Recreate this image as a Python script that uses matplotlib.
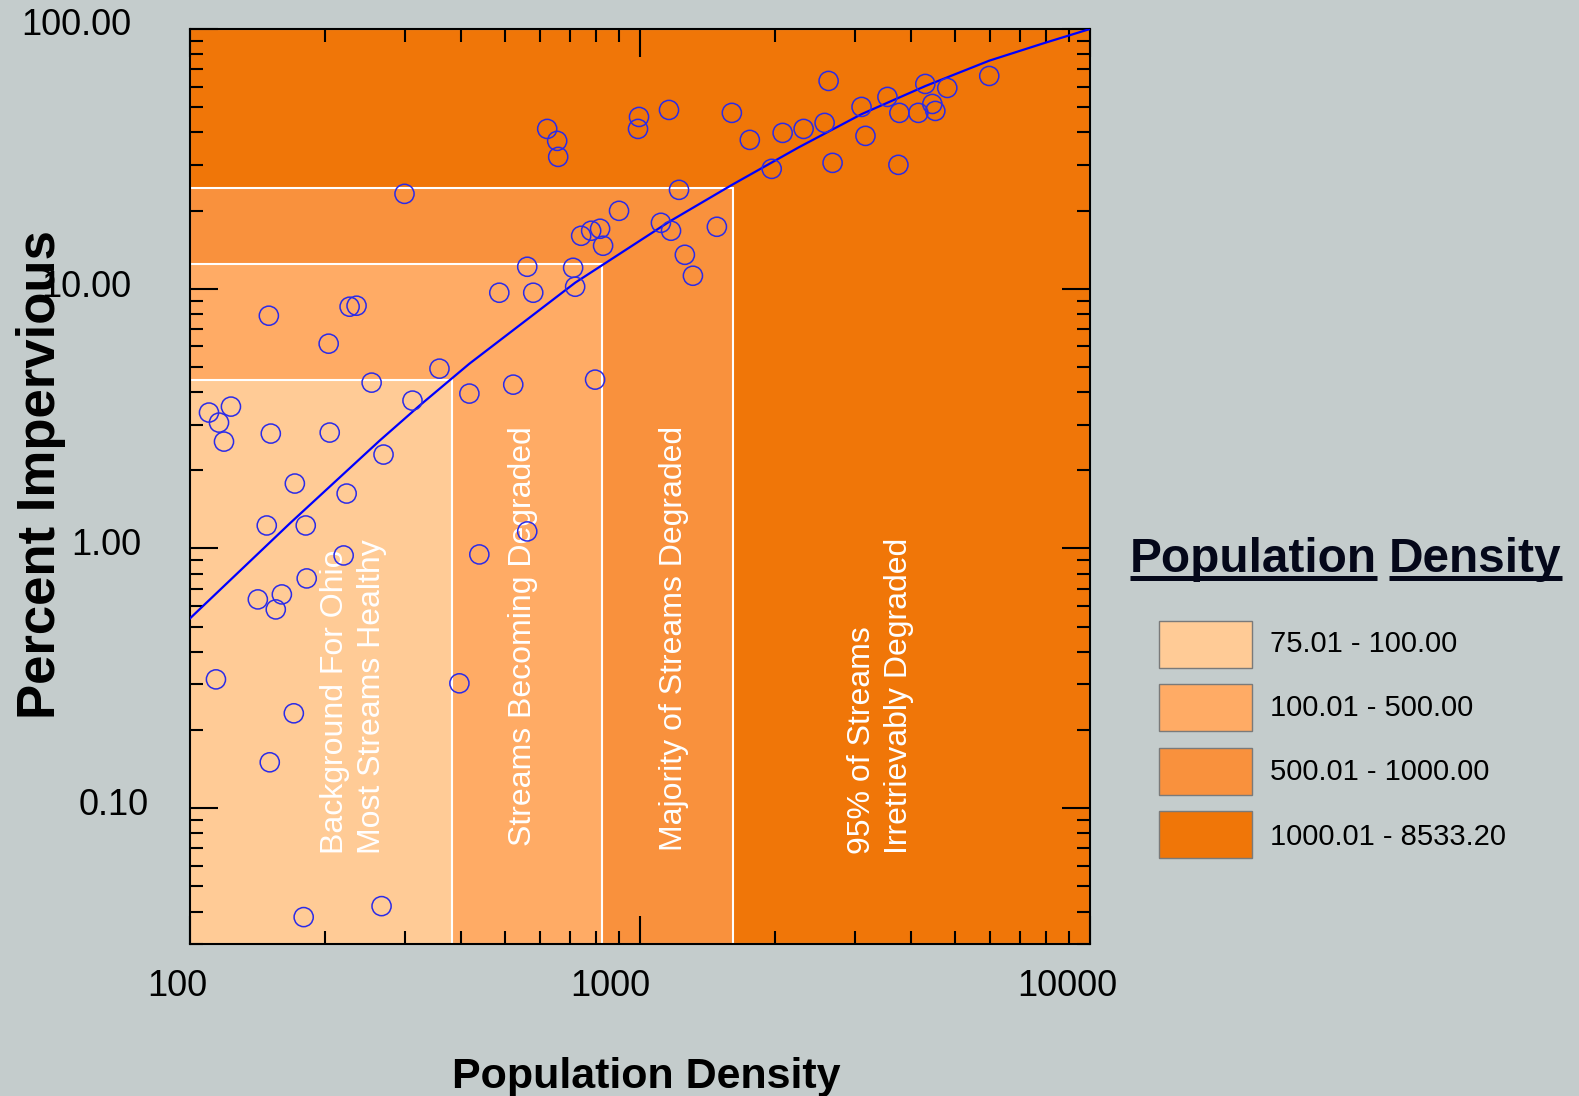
import matplotlib
matplotlib.use('Agg')
import matplotlib.pyplot as plt
from matplotlib.patches import Rectangle
from matplotlib.lines import Line2D
from matplotlib.ticker import FixedLocator, FuncFormatter, NullFormatter
import matplotlib.transforms as mtransforms
import numpy as np

plt.rcParams['font.family'] = ['Liberation Sans', 'DejaVu Sans']

# ---------------- data ----------------
density = [110.2, 123.3, 116.0, 119.0, 114.2, 149.7, 151.2, 148.1, 141.5, 155.1,
           160.0, 150.4, 171.0, 170.1, 180.8, 181.7, 178.9, 203.3, 204.4, 219.5,
           222.9, 226.3, 234.5, 253.3, 269.2, 266.5, 299.7, 312.2, 358.4, 396.9,
           417.7, 439.5, 486.8, 522.8, 561.6, 579.1, 561.6, 622.0, 654.6, 657.9,
           710.2, 717.6, 740.0, 778.8, 815.3, 827.9, 794.7, 898.3, 989.9, 995.0,
           1113, 1160, 1172, 1221, 1258, 1311, 1482, 1600, 1754, 1962,
           2075, 2310, 2572, 2625, 2679, 3107, 3170, 3547, 3771, 3752,
           4155, 4306, 4463, 4532, 4818, 5972]
impervious = [3.336, 3.517, 3.052, 2.579, 0.3133, 7.873, 2.769, 1.226, 0.6366, 0.5825,
              0.6653, 0.1502, 1.778, 0.2319, 1.226, 0.7667, 0.03808, 6.144, 2.794, 0.9399,
              1.627, 8.527, 8.603, 4.350, 2.299, 0.04197, 23.19, 3.709, 4.924, 0.3025,
              3.947, 0.9483, 9.652, 4.273, 12.15, 9.652, 1.163, 41.24, 37.09, 32.18,
              12.04, 10.18, 15.99, 16.72, 17.02, 14.64, 4.467, 19.95, 41.24, 45.86,
              17.94, 48.80, 16.72, 24.03, 13.51, 11.22, 17.32, 47.54, 37.42, 28.94,
              39.81, 41.24, 43.50, 63.10, 30.52, 50.12, 38.77, 54.77, 47.54, 29.99,
              47.54, 61.44, 51.46, 48.37, 59.30, 65.95]

fit_density = [100, 166.6, 263.8, 323.6, 417.7, 717.7, 1160, 1600, 2251, 3106,
               4306, 5970, 7948, 10000]
fit_impervious = [0.538, 1.248, 2.60, 3.548, 5.145, 10.55, 18.1, 25.1, 35.0, 47.0,
                  60.3, 75.5, 88.5, 100.0]

# zones, lightest to darkest: upper density / upper impervious limits
zone_density_max = [383, 823, 1607, 10000]
zone_impervious_max = [4.47, 12.5, 24.5, 100]
zone_colors = ['#ffcb96', '#ffab65', '#f9913d', '#f07608']
zone_texts = ['Background For Ohio\nMost Streams Healthy',
              'Streams Becoming Degraded',
              'Majority of Streams Degraded',
              '95% of Streams\nIrretrievably Degraded']
legend_labels = ['75.01 - 100.00', '100.01 - 500.00', '500.01 - 1000.00', '1000.01 - 8533.20']

x_major = [100, 1000, 10000]
y_major = [0.1, 1, 10, 100]
xlim = (100, 10000)
ylim = (0.03, 100)

# ---------------- figure ----------------
W, H = 1579, 1096
bg = '#c4cccc'
fig = plt.figure(figsize=(W / 100, H / 100), dpi=100, facecolor=bg)
ax = fig.add_axes([190 / W, 1 - 944 / H, 900 / W, 915 / H])
ax.set_xscale('log')
ax.set_yscale('log')
ax.set_xlim(*xlim)
ax.set_ylim(*ylim)
ax.set_facecolor(bg)

for xm, ym, c in reversed(list(zip(zone_density_max, zone_impervious_max, zone_colors))):
    ax.add_patch(Rectangle((xlim[0], ylim[0]), xm - xlim[0], ym - ylim[0],
                           facecolor=c, edgecolor='white', lw=1.5, zorder=1))

# zone captions (axes-fraction positions)
text_pos = [(0.182, 0.0984), (0.370, 0.107), (0.538, 0.1016), (0.767, 0.0984)]
for (tx, ty), t in zip(text_pos, zone_texts):
    ax.text(tx, ty, t, transform=ax.transAxes, rotation=90, ha='center', va='bottom',
            multialignment='left', color='white', fontsize=23, zorder=2,
            linespacing=1.3)

ax.plot(fit_density, fit_impervious, color='#0000ff', lw=1.6, zorder=3)
ax.scatter(density, impervious, s=190, facecolors='none', edgecolors='#2b2be8',
           linewidths=1.1, zorder=4)

# ticks
ax.xaxis.set_major_locator(FixedLocator(x_major))
ax.yaxis.set_major_locator(FixedLocator(y_major))
xminor = [m * d for d in (100, 1000) for m in range(2, 10)]
yminor = [m * d for d in (0.01, 0.1, 1, 10) for m in range(2, 10)]
ax.xaxis.set_minor_locator(FixedLocator(xminor))
ax.yaxis.set_minor_locator(FixedLocator(yminor))
ax.xaxis.set_major_formatter(FuncFormatter(lambda v, p: f'{v:.0f}'))
ax.yaxis.set_major_formatter(FuncFormatter(lambda v, p: f'{v:.2f}'))
ax.xaxis.set_minor_formatter(NullFormatter())
ax.yaxis.set_minor_formatter(NullFormatter())
ax.tick_params(which='both', direction='in', top=True, right=True, width=1.5,
               color='black', labelsize=26, labelcolor='black')
ax.tick_params(which='major', length=20)
ax.tick_params(which='minor', length=9.5)
ax.tick_params(axis='x', which='major', pad=18)
ax.tick_params(axis='y', which='major', pad=33)
for s in ax.spines.values():
    s.set_linewidth(1.5)
    s.set_color('black')

# axis titles
fig.text(41 / W, 1 - 475 / H, 'Percent Impervious', rotation=90, ha='center', va='center',
         fontsize=38, fontweight='bold', color='black')
fig.text(646 / W, 1 - 1088 / H, 'Population Density', ha='center', va='baseline',
         fontsize=31, fontweight='bold', color='black')

# legend
title_color = '#05081a'
for i, (lab, c) in enumerate(zip(legend_labels, zone_colors)):
    top = 621 + i * 63.3
    fig.add_artist(Rectangle((1159 / W, 1 - (top + 47) / H), 93 / W, 47 / H,
                             transform=fig.transFigure, facecolor=c,
                             edgecolor='#7a7a7a', lw=1))
    fig.text(1270 / W, 1 - (643.5 + i * 64.4) / H, lab, fontsize=21, ha='left',
             va='center', color='black')

fig.canvas.draw()
r = fig.canvas.get_renderer()
t1 = fig.text(1130 / W, 1 - 572 / H, 'Population', fontsize=34.4, fontweight='bold',
              color=title_color, ha='left', va='baseline')
bb1 = t1.get_window_extent(r)
t2 = fig.text((bb1.x1 + 12) / W, 1 - 572 / H, 'Density', fontsize=34.4, fontweight='bold',
              color=title_color, ha='left', va='baseline')
bb2 = t2.get_window_extent(r)
uy = 1 - 578 / H
for bb in (bb1, bb2):
    fig.add_artist(Line2D([bb.x0 / W, bb.x1 / W], [uy, uy], transform=fig.transFigure,
                          color=title_color, lw=3.6, solid_capstyle='butt'))

# small label offsets like the reference
x_shift_px = [-13, -30, -23]
for lbl, dx in zip(ax.get_xticklabels(), x_shift_px):
    lbl.set_transform(lbl.get_transform() +
                      mtransforms.ScaledTranslation(dx / 100, 0, fig.dpi_scale_trans))
y_shift_px = [(5, 7), (-3, 7), (-13, 5), (-13, 7)]
for lbl, (dx, dy) in zip(ax.get_yticklabels(), y_shift_px):
    lbl.set_transform(lbl.get_transform() +
                      mtransforms.ScaledTranslation(dx / 100, dy / 100, fig.dpi_scale_trans))

fig.savefig('out.png', dpi=100, facecolor=bg)
